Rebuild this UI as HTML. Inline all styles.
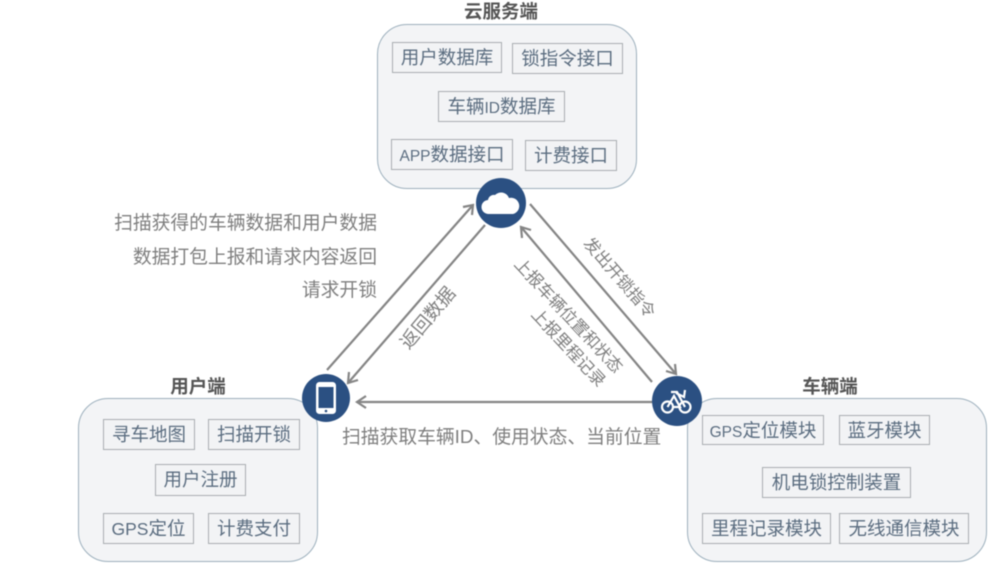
<!DOCTYPE html>
<html lang="zh"><head><meta charset="utf-8"><style>
html,body{margin:0;padding:0;background:#fff}
#r{position:relative;width:1000px;height:563px;overflow:hidden;background:#fff;font-family:"Liberation Sans","Noto Sans CJK SC",sans-serif;filter:blur(.45px)}
.p{position:absolute;box-sizing:border-box;background:#f3f4f6;border:1.5px solid #9db0bd;border-radius:30px}
.b{position:absolute;box-sizing:border-box;background:#f2f3f5;border:1.5px solid #a9adb1;color:#5b6d80;font-size:18.5px;display:block;text-align:center;line-height:29px;white-space:nowrap}
.b span{font-size:15.5px}
.h{position:absolute;font-size:18.5px;font-weight:bold;color:#555;white-space:nowrap;transform:translateX(-50%)}
.t{position:absolute;font-size:18.8px;color:#7f7f7f;white-space:nowrap}
.rt{position:absolute;font-size:16.6px;color:#7f7f7f;white-space:nowrap;line-height:20px;transform:translate(-50%,-50%) rotate(var(--a))}
svg{position:absolute;left:0;top:0}
</style></head><body><div id="r">
<div class="p" style="left:377px;top:24px;width:260px;height:165px"></div>
<div class="p" style="left:78px;top:398px;width:240px;height:164px"></div>
<div class="p" style="left:687px;top:398px;width:300px;height:164px"></div>

<div class="h" style="left:501px;top:0;line-height:24px">云服务端</div>
<div class="h" style="left:198px;top:375px;line-height:24px">用户端</div>
<div class="h" style="left:830px;top:375px;line-height:24px">车辆端</div>

<div class="b" style="left:392px;top:42px;width:110px;height:31px">用户数据库</div>
<div class="b" style="left:512px;top:43px;width:111px;height:31px">锁指令接口</div>
<div class="b" style="left:438px;top:91px;width:127px;height:31px">车辆<span>ID</span>数据库</div>
<div class="b" style="left:391px;top:139px;width:122px;height:31px"><span>APP</span>数据接口</div>
<div class="b" style="left:525px;top:140px;width:92px;height:31px">计费接口</div>

<div class="b" style="left:103px;top:419px;width:92px;height:31px">寻车地图</div>
<div class="b" style="left:208px;top:419px;width:92px;height:31px">扫描开锁</div>
<div class="b" style="left:155px;top:464px;width:91px;height:32px">用户注册</div>
<div class="b" style="left:103px;top:513px;width:91px;height:31px"><span style="font-size:17.5px">GPS</span>定位</div>
<div class="b" style="left:208px;top:513px;width:92px;height:31px">计费支付</div>

<div class="b" style="left:702px;top:415px;width:122px;height:30px"><span>GPS</span>定位模块</div>
<div class="b" style="left:839px;top:415px;width:91px;height:30px">蓝牙模块</div>
<div class="b" style="left:762px;top:467px;width:149px;height:31px">机电锁控制装置</div>
<div class="b" style="left:702px;top:513px;width:129px;height:31px">里程记录模块</div>
<div class="b" style="left:839px;top:513px;width:130px;height:31px">无线通信模块</div>

<div class="t" style="right:623px;top:211px;line-height:24px">扫描获得的车辆数据和用户数据</div>
<div class="t" style="right:623px;top:245px;line-height:24px">数据打包上报和请求内容返回</div>
<div class="t" style="right:623px;top:278px;line-height:24px">请求开锁</div>
<div class="t" style="left:342px;top:425px;line-height:24px">扫描获取车辆ID、使用状态、当前位置</div>
<div class="rt" style="left:619px;top:278px;--a:49deg">发出开锁指令</div>
<div class="rt" style="left:568px;top:316px;--a:47deg">上报车辆位置和状态</div>
<div class="rt" style="left:568px;top:348px;--a:47deg">上报里程记录</div>
<div class="rt" style="left:428px;top:318px;--a:-50deg;font-size:18.5px">返回数据</div>

<svg width="1000" height="563" viewBox="0 0 1000 563" fill="none">
<g stroke="#858585" stroke-width="2.2" fill="none">
<path d="M327 370L473 205"/><path d="M463 207L473 205L472 215"/>
<path d="M485 225L348 383"/><path d="M349 372L348 383L358 380"/>
<path d="M530 204L676 374"/><path d="M666 371L676 374L675 364"/>
<path d="M652 382L521 227"/><path d="M522 238L521 227L531 230"/>
<path d="M652 402L357 402"/><path d="M366 396L357 402L366 408"/>
</g>
<circle cx="501" cy="203" r="25" fill="#2b5082"/>
<path d="M489 214a7 7 0 0 1-1-14a6 6 0 0 1 7-5a8.500 8.500 0 0 1 14 3a7 7 0 0 1 4 16z" fill="#fff"/>
<circle cx="326" cy="398" r="24" fill="#2b5082"/>
<rect x="316" y="382" width="20" height="32" rx="3.500" fill="#fff"/>
<rect x="318.500" y="387" width="15" height="21" fill="#2b5082"/>
<circle cx="326" cy="411" r="1.300" fill="#2b5082"/>
<circle cx="677" cy="401" r="25" fill="#2b5082"/>
<g stroke="#fff" stroke-width="2.200" fill="none">
<circle cx="667.500" cy="407" r="5.500"/><circle cx="685" cy="407" r="5.500"/>
<path d="M667.500 407L674 396L680 407H672M671 392H677L685 407M676 393L684 397L685 390"/>
</g>
</svg>
</div></body></html>
